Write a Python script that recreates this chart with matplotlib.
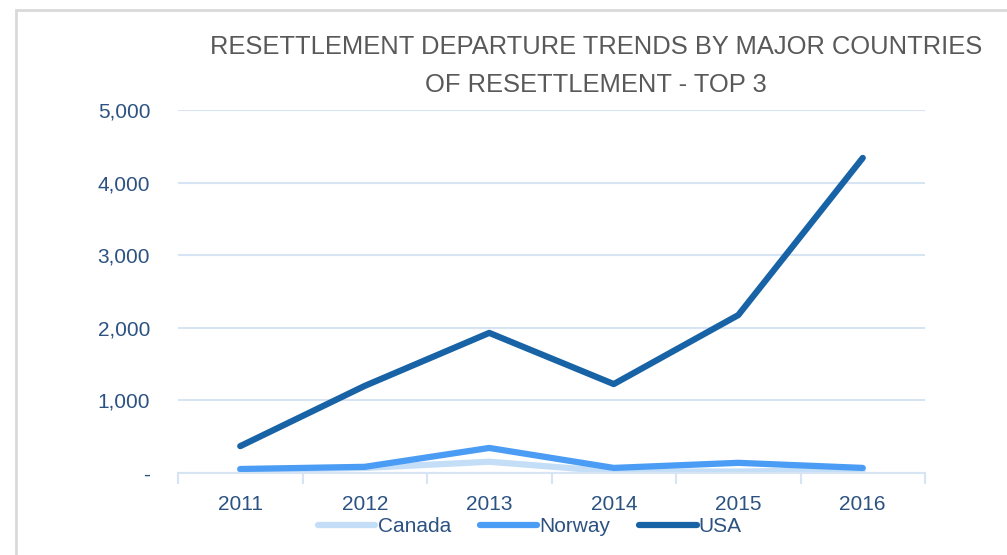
import matplotlib.pyplot as plt
from matplotlib.patches import Rectangle


years = ["2011", "2012", "2013", "2014", "2015", "2016"]
canada = [40, 70, 155, 20, 20, 40]
norway = [55, 85, 345, 70, 140, 70]
usa = [370, 1200, 1930, 1225, 2175, 4340]

y_ticks = [0, 1000, 2000, 3000, 4000, 5000]
y_labels = ["-", "1,000", "2,000", "3,000", "4,000", "5,000"]

COLORS = {"Canada": "#c4def7", "Norway": "#4b9cf4", "USA": "#1763a6"}
TEXT_BLUE = "#2c5282"
GRID = "#d6e4f3"
FONT = "Liberation Sans"


def main() -> None:
    fig = plt.figure(figsize=(10.07, 5.55), dpi=100)
    fig.patches.append(Rectangle((16 / 1007, -0.1), 1.2, (555 - 10) / 555 + 0.1,
                                 transform=fig.transFigure, fill=False,
                                 edgecolor="#d9d9d9", linewidth=2))
    ax = fig.add_axes([178 / 1007, 82 / 555, 747 / 1007, 363 / 555])

    x = list(range(len(years)))
    for name, values in [("Canada", canada), ("Norway", norway), ("USA", usa)]:
        ax.plot(x, values, color=COLORS[name], linewidth=4.5, label=name,
                solid_capstyle="round", solid_joinstyle="round")

    ax.set_xlim(-0.5, len(years) - 0.5)
    ax.set_ylim(0, 5000)
    ax.set_yticks(y_ticks)
    ax.set_yticklabels(y_labels, fontfamily=FONT, fontsize=15, color=TEXT_BLUE)
    ax.tick_params(axis="y", length=0, pad=20)
    ax.grid(axis="y", color=GRID, linewidth=1.5)
    ax.set_axisbelow(True)

    ax.set_xticks([i - 0.5 for i in range(len(years) + 1)])
    ax.set_xticklabels([])
    ax.tick_params(axis="x", which="major", length=8, width=1.5, color=GRID)
    ax.set_xticks(x, minor=True)
    ax.set_xticklabels(years, minor=True, fontfamily=FONT, fontsize=15, color=TEXT_BLUE)
    ax.tick_params(axis="x", which="minor", length=0, pad=16)

    for side in ["top", "right", "left"]:
        ax.spines[side].set_visible(False)
    ax.spines["bottom"].set_color(GRID)
    ax.spines["bottom"].set_linewidth(1.5)

    fig.text(596 / 1007, 1 - 66 / 555,
             "RESETTLEMENT DEPARTURE TRENDS BY MAJOR COUNTRIES\nOF RESETTLEMENT - TOP 3",
             ha="center", va="center", fontsize=18.4, color="#595959",
             fontfamily=FONT, linespacing=1.75)

    ax.legend(loc="center", bbox_to_anchor=(530 / 1007, 1 - 527 / 555),
              bbox_transform=fig.transFigure, ncol=3, frameon=False,
              prop={"family": FONT, "size": 15}, labelcolor=TEXT_BLUE,
              handlelength=2.75, handletextpad=0.1, columnspacing=1.4,
              borderaxespad=0)

    fig.savefig("out.png", dpi=100)
    plt.close(fig)


if __name__ == "__main__":
    main()
